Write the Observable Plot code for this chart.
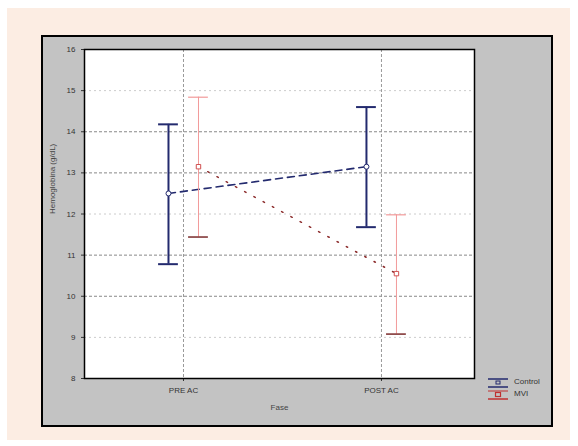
<!DOCTYPE html>
<html><head><meta charset="utf-8">
<script src="https://cdn.jsdelivr.net/npm/d3@7"></script>
<script src="https://cdn.jsdelivr.net/npm/@observablehq/plot@0.6"></script>
<style>
body{margin:0;background:#fff;font-family:"Liberation Sans",Arial,sans-serif;}
#wrap{position:relative;width:578px;height:446px;overflow:hidden;}
#peach{position:absolute;left:7px;top:8px;width:563px;height:432px;background:#fcede3;}
#frame{position:absolute;left:41px;top:35px;width:508px;height:388px;background:#c3c3c3;border:2px solid #000;}
#chart{position:absolute;left:0;top:0;}
#legend{position:absolute;left:488px;top:376px;font-size:8px;color:#333;line-height:12px;}
#legend div{display:flex;align-items:center;gap:6px;}
</style></head><body>
<div id="wrap"><div id="peach"></div><div id="frame"></div><div id="chart"></div>
<div id="legend"></div></div>
<script>
const phases = ["PRE AC", "POST AC"];
const groups = ["Control", "MVI"];
const controlMean = [12.5, 13.15];
const controlUpper = [14.18, 14.6];
const controlLower = [10.78, 11.68];
const mviMean = [13.15, 10.55];
const mviUpper = [14.84, 11.98];
const mviLower = [11.44, 9.08];
const yTicks = [8, 9, 10, 11, 12, 13, 14, 15, 16];
const yLabel = "Hemoglobina (g/dL)";
const xLabel = "Fase";

const colors = {Control: "#232a6e", MVI: "#f29a9a"};
const build = (g, mean, up, lo) => phases.map((p, i) => ({group: g, i, phase: p, mean: mean[i], up: up[i], lo: lo[i]}));
const control = build("Control", controlMean, controlUpper, controlLower);
const mvi = build("MVI", mviMean, mviUpper, mviLower);
const capW = 0.05;

const chart = Plot.plot({
  width: 578, height: 446,
  marginTop: 49, marginLeft: 84, marginRight: 104, marginBottom: 68,
  style: {background: "transparent", fontSize: "8px", fontFamily: "Liberation Sans, Arial, sans-serif", color: "#333"},
  x: {type: "linear", domain: [-0.5, 1.47], ticks: [0, 1], tickFormat: i => phases[i], tickSize: 3, label: null},
  y: {domain: [8, 16], ticks: yTicks, tickSize: 3, label: null},
  marks: [
    Plot.frame({fill: "white"}),
    Plot.ruleY(yTicks.filter(t => t > 8 && t < 16 && t % 3 !== 0), {stroke: "#888", strokeDasharray: "3,2", strokeWidth: 1}),
    Plot.ruleY(yTicks.filter(t => t > 8 && t < 16 && t % 3 === 0), {stroke: "#ccc", strokeDasharray: "2,3", strokeWidth: 1}),
    Plot.ruleX([0, 1], {stroke: "#999", strokeDasharray: "3,2", strokeWidth: 1}),
    Plot.line(control, {x: "i", y: "mean", dx: -15, stroke: colors.Control, strokeWidth: 1.6, strokeDasharray: "7,5"}),
    Plot.ruleX(control, {x: "i", y1: "lo", y2: "up", dx: -15, stroke: colors.Control, strokeWidth: 2}),
    Plot.ruleY(control, {x1: d => d.i - capW, x2: d => d.i + capW, y: "up", dx: -15, stroke: colors.Control, strokeWidth: 2}),
    Plot.ruleY(control, {x1: d => d.i - capW, x2: d => d.i + capW, y: "lo", dx: -15, stroke: colors.Control, strokeWidth: 2}),
    Plot.dot(control, {x: "i", y: "mean", dx: -15, r: 2.5, stroke: colors.Control, fill: "white", strokeWidth: 1}),
    Plot.line(mvi, {x: "i", y: "mean", dx: 15, stroke: "#8b2a2a", strokeWidth: 1.5, strokeDasharray: "1.5,9"}),
    Plot.ruleX(mvi, {x: "i", y1: "lo", y2: "up", dx: 15, stroke: colors.MVI, strokeWidth: 1}),
    Plot.ruleY(mvi, {x1: d => d.i - capW, x2: d => d.i + capW, y: "up", dx: 15, stroke: colors.MVI, strokeWidth: 1.2}),
    Plot.ruleY(mvi, {x1: d => d.i - capW, x2: d => d.i + capW, y: "lo", dx: 15, stroke: "#7a2a2a", strokeWidth: 1.5}),
    Plot.dot(mvi, {x: "i", y: "mean", dx: 15, r: 2.5, symbol: "square", stroke: "#d05050", fill: "white", strokeWidth: 1}),
    Plot.frame({stroke: "#000", strokeWidth: 1.5}),
    Plot.text([yLabel], {frameAnchor: "left", dx: -32, rotate: -90, fontSize: 8, fill: "#444"}),
    Plot.text([xLabel], {frameAnchor: "bottom", dy: 31, fontSize: 8, fill: "#444"})
  ]
});
document.getElementById("chart").append(chart);

const leg = document.getElementById("legend");
groups.forEach(g => {
  const row = document.createElement("div");
  const c = g === "Control" ? colors.Control : "#c03030";
  row.innerHTML = `<svg width="20" height="11"><line x1="0" x2="20" y1="2" y2="2" stroke="${c}" stroke-width="${g==="Control"?1.5:1}"/><line x1="0" x2="20" y1="10" y2="10" stroke="${c}" stroke-width="1.5"/>${g==="Control"?`<rect x="8" y="4" width="4" height="3" fill="none" stroke="${c}"/>`:`<rect x="7.5" y="3.5" width="5" height="4" fill="none" stroke="${c}" stroke-width="1.2"/>`}</svg><span>${g}</span>`;
  leg.append(row);
});
</script></body></html>
